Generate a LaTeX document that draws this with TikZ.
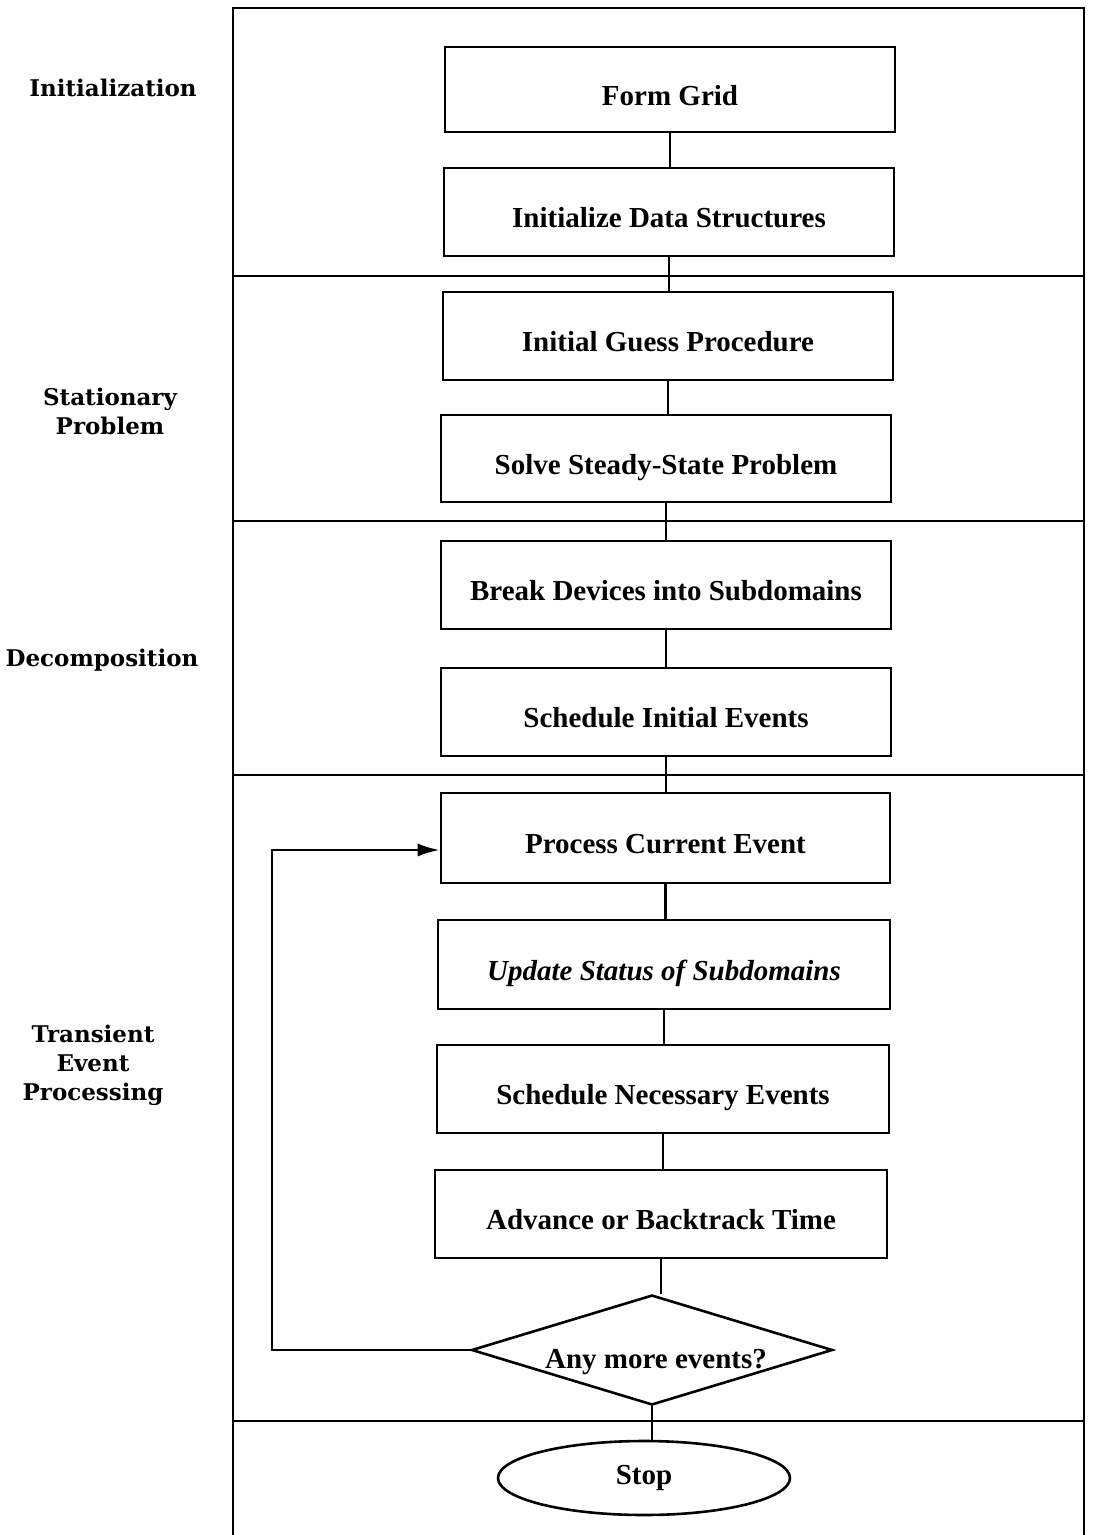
\documentclass[tikz,border=0pt]{standalone}
\usepackage{fontspec}
\setmainfont{Liberation Serif}
\newfontfamily\sidefont{DejaVu Serif}
\usetikzlibrary{shapes.geometric,arrows.meta}
\begin{document}
\begin{tikzpicture}[x=1pt,y=-1pt,
  frameline/.style={line width=2.6pt},
  flowbox/.style={draw,line width=2.6pt,rectangle,inner sep=0pt,minimum width=450pt,minimum height=88pt,
     font=\fontsize{29}{33}\selectfont\bfseries,text height=31pt,text depth=0pt},
  sidelabel/.style={font=\sidefont\fontsize{23}{29}\selectfont\bfseries,align=center},
  conn/.style={line width=2.6pt}]
\useasboundingbox (0,0) rectangle (1095,1535);
% frame
\draw[frameline] (233,1535) -- (233,8) -- (1084,8) -- (1084,1535);
\draw[frameline] (233,276) -- (1084,276);
\draw[frameline] (233,521) -- (1084,521);
\draw[frameline] (233,775) -- (1084,775);
\draw[frameline] (233,1421) -- (1084,1421);
% side labels
\node[sidelabel] (l1) at (113,88) {Initialization};
\node[sidelabel] (l2) at (110,411) {Stationary\\Problem};
\node[sidelabel] (l3) at (102,660) {Decomposition};
\node[sidelabel] (l4) at (93,1065) {Transient\\Event\\Processing};
% boxes
\node[flowbox,minimum height=85pt] (b1) at (670,89.5) {Form Grid};
\node[flowbox] (b2) at (669,212) {Initialize Data Structures};
\node[flowbox] (b3) at (668,336) {Initial Guess Procedure};
\node[flowbox,minimum height=87pt] (b4) at (666,458.5) {Solve Steady-State Problem};
\node[flowbox] (b5) at (666,585) {Break Devices into Subdomains};
\node[flowbox] (b6) at (666,712) {Schedule Initial Events};
\node[flowbox,minimum width=449pt,minimum height=90pt] (b7) at (665.5,838) {Process Current Event};
\node[flowbox,minimum width=452pt,minimum height=89pt] (b8) at (664,964.5) {\itshape Update Status of Subdomains};
\node[flowbox,minimum width=452pt] (b9) at (663,1089) {Schedule Necessary Events};
\node[flowbox,minimum width=452pt] (b10) at (661,1214) {Advance or Backtrack Time};
% decision
\node[draw,diamond,line width=2.6pt,inner sep=0pt,minimum width=361pt,minimum height=110pt] (d) at (652,1350) {};
\node[font=\fontsize{29}{33}\selectfont\bfseries] (dt) at (656,1362) {Any more events?};
% stop
\node[draw,ellipse,line width=2.6pt,inner sep=0pt,minimum width=292pt,minimum height=74pt,
      font=\fontsize{29}{33}\selectfont\bfseries] (stop) at (644,1478) {Stop};
% connectors
\foreach \a/\b in {b1/b2,b2/b3,b3/b4,b4/b5,b5/b6,b6/b7,b7/b8,b8/b9,b9/b10,b10/d}
  \draw[conn] (\a.south) -- (\a.south |- \b.north);
\draw[conn] (d.south) -- (d.south |- stop.north);
\coordinate (lc1) at (272,1350);
\coordinate (lc2) at (272,850);
\draw[conn,-{Latex[length=22pt,width=13pt]}] (d.west) -- (lc1) -- (lc2) -- ([yshift=-12pt]b7.west);
\end{tikzpicture}
\end{document}
